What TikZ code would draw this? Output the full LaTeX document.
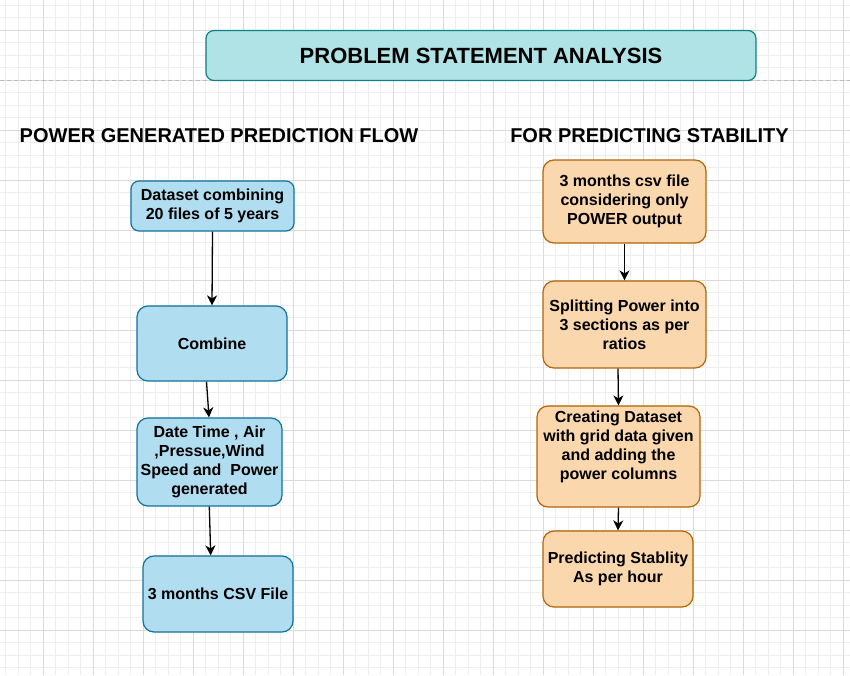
\documentclass[tikz,border=0pt]{standalone}
\usepackage{fontspec}
\setmainfont{Liberation Sans}
\usetikzlibrary{arrows.meta,calc}
\definecolor{bluefill}{HTML}{B1DDF0}
\definecolor{bluedraw}{HTML}{10739E}
\definecolor{orfill}{HTML}{FAD7AC}
\definecolor{ordraw}{HTML}{B46504}
\definecolor{tealfill}{HTML}{B0E3E6}
\definecolor{tealdraw}{HTML}{0E8088}
\definecolor{gridminor}{HTML}{EEEEEE}
\definecolor{gridmajor}{HTML}{DADADA}
\definecolor{pageline}{HTML}{BBBBBB}
\begin{document}
\begin{tikzpicture}[x=1pt,y=-1pt,
 box/.style={rounded corners=11pt, line width=1.2pt, inner sep=0pt, align=center,
   font=\fontsize{16}{19}\selectfont\bfseries},
 bluebox/.style={box, fill=bluefill, draw=bluedraw},
 orbox/.style={box, fill=orfill, draw=ordraw},
 boxtext/.style={inner sep=0pt, align=center, font=\fontsize{16}{19}\selectfont\bfseries},
 heading/.style={font=\fontsize{20}{24}\selectfont\bfseries, anchor=base, inner sep=0pt},
 arr/.style={line width=1.3pt, -{Stealth[length=10pt,width=10pt,inset=3pt]}},
 minorl/.style={gridminor, line width=0.8pt},
 majorl/.style={gridmajor, line width=0.8pt}]
\useasboundingbox (0,0) rectangle (850,675);
\fill[white] (0,0) rectangle (850,675);
% grid
\foreach \i in {0,...,67} \draw[minorl] ({5.833+12.5*\i},0) -- ++(0,675);
\foreach \i in {0,...,54} \draw[minorl] (0,{5+12.5*\i}) -- ++(850,0);
\foreach \i in {0,...,16} \draw[majorl] ({43.333+50*\i},0) -- ++(0,675);
\foreach \i in {0,...,13} \draw[majorl] (0,{30+50*\i}) -- ++(850,0);
\draw[pageline, line width=0.8pt, dash pattern=on 4pt off 3pt] (0,80.5) -- (850,80.5);

% title
\node[rounded corners=8pt, line width=1.2pt, fill=tealfill, draw=tealdraw,
  minimum width=550pt, minimum height=50pt, inner sep=0pt,
  font=\fontsize{22}{26}\selectfont\bfseries] (title) at (481,55.5) {PROBLEM STATEMENT ANALYSIS};

% headings
\node[heading] (hl) at (219,142) {POWER GENERATED PREDICTION FLOW};
\node[heading] (hr) at (649.5,142) {FOR PREDICTING STABILITY};

% left column
\node[bluebox, rounded corners=8pt, minimum width=163pt, minimum height=50pt] (b1) at (212.5,206)
  {Dataset combining\\20 files of 5 years};
\node[bluebox, minimum width=150pt, minimum height=75pt] (b2) at (212,343.5) {Combine};
\node[bluebox, minimum width=145pt, minimum height=88pt] (b3) at (209.5,462)
  {Date Time , Air\\,Pressue,Wind\\Speed and\ \ Power\\generated};
\node[bluebox, minimum width=150pt, minimum height=76pt] (b4) at (218,594)
  {3 months CSV File};

% right column
\node[orbox, minimum width=163pt, minimum height=83pt] (r1) at (624.5,201.5)
  {3 months csv file\\considering only\\POWER output};
\node[orbox, minimum width=163pt, minimum height=87pt] (r2) at (624.5,324.5)
  {Splitting Power into\\3 sections as per\\ratios};
\node[orbox, minimum width=163pt, minimum height=101pt,
  label={[boxtext, yshift=10pt]center:{Creating Dataset\\with grid data given\\and adding the\\power columns}}] (r3) at (618.5,456.5) {};
\node[orbox, minimum width=150pt, minimum height=76pt] (r4) at (618,569)
  {Predicting Stablity\\As per hour};

% connectors
\draw[arr] (b1.south) -- (b2.north);
\draw[arr] ($(b2.south)+(-5.5,0)$) -- ($(b3.north)+(-0.5,0)$);
\draw[arr] ($(b3.south)+(-0.2,0)$) -- ($(b4.north)+(-7.3,0)$);
\draw[arr] (r1.south) -- (r2.north);
\draw[arr] ($(r2.south)+(-6.5,0)$) -- (r3.north);
\draw[arr] (r3.south) -- (r4.north);
\end{tikzpicture}
\end{document}
